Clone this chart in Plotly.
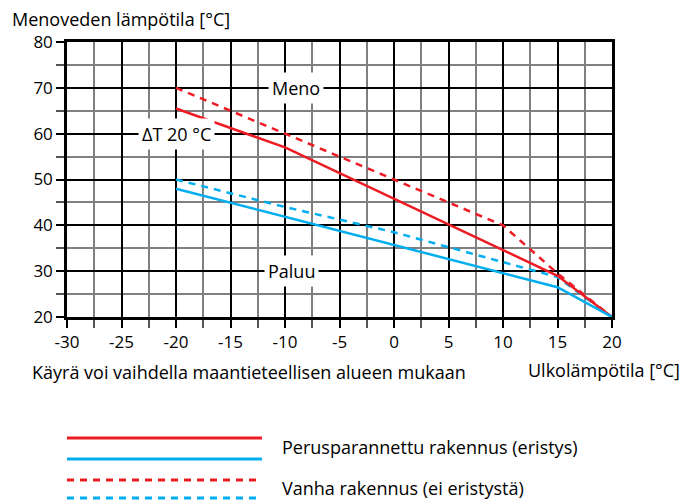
import plotly.graph_objects as go

# ---- data ----
meno_perus_x = [-20, -10, 15, 20]
meno_perus_y = [65.5, 57, 29, 20]
meno_vanha_x = [-20, 10, 15, 20]
meno_vanha_y = [70, 40, 29.5, 20]
paluu_perus_x = [-20, 15, 20]
paluu_perus_y = [48, 26.5, 20]
paluu_vanha_x = [-20, -10, 0, 10, 15, 20]
paluu_vanha_y = [50, 44, 38.5, 32, 28.7, 20]

x_ticks = [-30, -25, -20, -15, -10, -5, 0, 5, 10, 15, 20]
y_ticks = [20, 30, 40, 50, 60, 70, 80]

legend_labels = ["Perusparannettu rakennus (eristys)", "Vanha rakennus (ei eristystä)"]

RED = "#ED1C24"
BLUE = "#00AEEF"
FONT = "Open Sans"
FS_TICK = 17
FS = 18

W, H = 696, 503
L, R, T, B = 67, 612, 42, 317  # plot area in pixels


def px(xp):
    return (xp - L) / (R - L)


def py(yp):
    return (B - yp) / (B - T)


fig = go.Figure()
DASH = "7px,6px"
fig.add_trace(go.Scatter(x=meno_vanha_x, y=meno_vanha_y, mode="lines",
                         line=dict(color=RED, width=2.5, dash=DASH)))
fig.add_trace(go.Scatter(x=paluu_vanha_x, y=paluu_vanha_y, mode="lines",
                         line=dict(color=BLUE, width=2.5, dash=DASH)))
fig.add_trace(go.Scatter(x=meno_perus_x, y=meno_perus_y, mode="lines",
                         line=dict(color=RED, width=2.5)))
fig.add_trace(go.Scatter(x=paluu_perus_x, y=paluu_perus_y, mode="lines",
                         line=dict(color=BLUE, width=2.5)))

axis_common = dict(
    ticks="outside", ticklen=8, tickwidth=2, tickcolor="black",
    showgrid=True, gridcolor="black", gridwidth=2,
    showline=True, linecolor="black", linewidth=2.5, mirror=True,
    zeroline=False, fixedrange=True, automargin=False,
    tickfont=dict(family=FONT, size=FS_TICK, color="black"),
)

fig.update_xaxes(range=[-30, 20], tickvals=x_ticks, ticktext=[str(v) for v in x_ticks],
                 minor=dict(dtick=2.5, tick0=0, ticks="outside", ticklen=8, tickwidth=1.5,
                            tickcolor="#555", showgrid=True, gridcolor="#808080", gridwidth=1.5),
                 **axis_common)
fig.update_yaxes(range=[20, 80], tickvals=y_ticks, ticktext=[str(v) for v in y_ticks],
                 minor=dict(dtick=5, tick0=0, ticks="outside", ticklen=8, tickwidth=1.5,
                            tickcolor="#555", showgrid=True, gridcolor="#808080", gridwidth=1.5),
                 **axis_common)

annos = []
# in-plot labels with white background
for txt, xv, yv in [("Meno", -9.0, 70), ("ΔT 20 °C", -20, 60), ("Paluu", -9.4, 30)]:
    annos.append(dict(text=txt, x=xv, y=yv, xref="x", yref="y", showarrow=False,
                      bgcolor="white", borderpad=3,
                      font=dict(family=FONT, size=FS, color="black")))


def label(text, xp, yp, anchor):
    return dict(text=text, x=px(xp), y=py(yp), xref="paper", yref="paper",
                xanchor=anchor, yanchor="middle", showarrow=False,
                font=dict(family=FONT, size=FS, color="black"))


annos.append(label("Menoveden lämpötila [°C]", 10, 19, "left"))
annos.append(label("Käyrä voi vaihdella maantieteellisen alueen mukaan", 30, 372, "left"))
annos.append(label("Ulkolämpötila [°C]", 682, 370, "right"))
annos.append(label(legend_labels[0], 280, 447, "left"))
annos.append(label(legend_labels[1], 280, 488, "left"))

shapes = []
for yp, col, dash in [(438, RED, "solid"), (459, BLUE, "solid"), (480, RED, DASH), (498, BLUE, DASH)]:
    shapes.append(dict(type="line", xref="paper", yref="paper", x0=px(67), x1=px(262),
                       y0=py(yp), y1=py(yp), line=dict(color=col, width=3, dash=dash)))

fig.update_layout(
    width=W, height=H, autosize=False,
    margin=dict(l=L, r=W - R, t=T, b=H - B, pad=0),
    paper_bgcolor="white", plot_bgcolor="white",
    showlegend=False,
    annotations=annos, shapes=shapes,
    font=dict(family=FONT, size=FS, color="black"),
)

fig.write_html("out.html", config={"displayModeBar": False},
               post_script="document.body.style.margin='0px';")
